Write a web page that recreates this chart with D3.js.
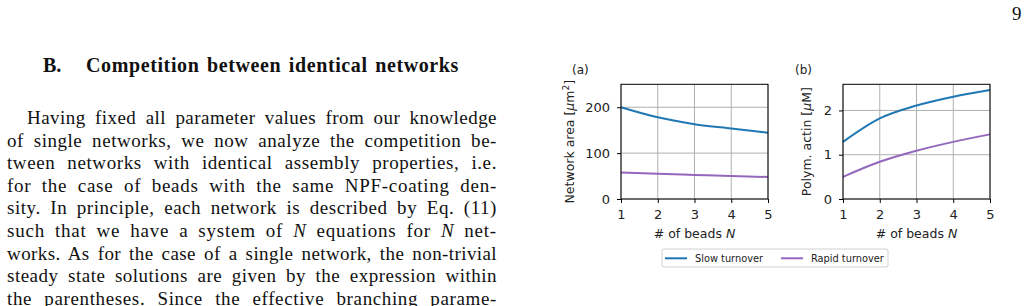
<!DOCTYPE html>
<html>
<head>
<meta charset="utf-8">
<script src="https://cdn.jsdelivr.net/npm/d3@7"></script>
<style>
  body { margin: 0; background: #fff; }
  svg { display: block; }
  .serif { font-family: "Liberation Serif", serif; fill: #111; }
  .plot text { font-family: "DejaVu Sans", sans-serif; fill: #222; }
</style>
</head>
<body>
<svg id="page" width="1029" height="306"></svg>
<script>
// data
var beads = [1, 2, 3, 4, 5];
var areaSlow = [200, 178, 163, 153.5, 144.5];
var areaRapid = [58, 55, 52.5, 50, 48];
var actinSlow = [1.29, 1.82, 2.11, 2.31, 2.46];
var actinRapid = [0.5, 0.84, 1.09, 1.29, 1.46];
var xTicks = [1, 2, 3, 4, 5];
var areaTicks = [0, 100, 200];
var actinTicks = [0, 1, 2];
var seriesNames = ["Slow turnover", "Rapid turnover"];
var colors = ["#1f77b4", "#9467bd"];

var heading = ["B.", "Competition between identical networks"];
var bodyLines = [
  "Having fixed all parameter values from our knowledge",
  "of single networks, we now analyze the competition be-",
  "tween networks with identical assembly properties, i.e.",
  "for the case of beads with the same NPF-coating den-",
  "sity. In principle, each network is described by Eq. (11)",
  "such that we have a system of _N_ equations for _N_ net-",
  "works. As for the case of a single network, the non-trivial",
  "steady state solutions are given by the expression within",
  "the parentheses. Since the effective branching parame-"
];

var svg = d3.select("#page");

// stretch a line to a given width, split between letter gaps and spaces
function justify(t, width, letterShare) {
  var node = t.node();
  var str = node.textContent;
  var extra = width - node.getComputedTextLength();
  if (extra <= 0) return;
  var spaces = (str.match(/ /g) || []).length;
  var ls = extra * letterShare / str.length;
  var ws = spaces ? extra * (1 - letterShare) / spaces : 0;
  t.style("letter-spacing", ls + "px").style("word-spacing", ws + "px");
}

// page number
svg.append("text").attr("class", "serif")
  .attr("x", 1012).attr("y", 20)
  .style("font-size", "19px")
  .text("9");

// heading
var h = svg.append("g").attr("class", "serif")
  .style("font-size", "20px").style("font-weight", "bold");
h.append("text").attr("x", 43).attr("y", 72).text(heading[0]);
var ht = h.append("text").attr("x", 86).attr("y", 72).text(heading[1]);
justify(ht, 373, 0.8);

// body text, justified
bodyLines.forEach(function (line, i) {
  var x0 = i === 0 ? 27 : 7;
  var t = svg.append("text").attr("class", "serif")
    .attr("x", x0).attr("y", 124 + i * 22.6)
    .style("font-size", "19px");
  line.split("_").forEach(function (part, j) {
    t.append("tspan").style("font-style", j % 2 ? "italic" : "normal").text(part);
  });
  justify(t, 497 - x0, 0.45);
});

function panel(opts) {
  var g = svg.append("g").attr("class", "plot");
  var x = d3.scaleLinear().domain([1, 5]).range([opts.left, opts.left + 147]);
  var y = d3.scaleLinear().domain([0, opts.ymax]).range([199, 84.3]);

  // grid
  g.append("g").selectAll("line").data(xTicks).enter().append("line")
    .attr("x1", x).attr("x2", x).attr("y1", y(0)).attr("y2", y(opts.ymax))
    .attr("stroke", "#b0b0b0").attr("stroke-width", 1);
  g.append("g").selectAll("line").data(opts.yTicks).enter().append("line")
    .attr("x1", x(1)).attr("x2", x(5)).attr("y1", y).attr("y2", y)
    .attr("stroke", "#b0b0b0").attr("stroke-width", 1);

  var line = d3.line()
    .x(function (d, i) { return x(beads[i]); })
    .y(function (d) { return y(d); })
    .curve(d3.curveMonotoneX);
  opts.series.forEach(function (s, k) {
    g.append("path").datum(s).attr("d", line)
      .attr("fill", "none").attr("stroke", colors[k]).attr("stroke-width", 2);
  });

  // frame
  g.append("rect").attr("x", x(1)).attr("y", y(opts.ymax))
    .attr("width", x(5) - x(1)).attr("height", y(0) - y(opts.ymax))
    .attr("fill", "none").attr("stroke", "#000").attr("stroke-width", 1);

  var ax = g.append("g").attr("transform", "translate(0,199)")
    .call(d3.axisBottom(x).tickValues(xTicks).tickFormat(d3.format("d")).tickSize(4).tickPadding(7));
  var ay = g.append("g").attr("transform", "translate(" + opts.left + ",0)")
    .call(d3.axisLeft(y).tickValues(opts.yTicks).tickFormat(d3.format("d")).tickSize(4).tickPadding(7));
  [ax, ay].forEach(function (a) {
    a.select(".domain").remove();
    a.attr("font-size", 13).attr("font-family", "DejaVu Sans");
    a.selectAll("text").attr("fill", "#222");
    a.selectAll(".tick line").attr("stroke", "#000");
  });

  var xl = g.append("text").attr("x", x(3)).attr("y", 238)
    .attr("text-anchor", "middle").style("font-size", "12.5px");
  xl.append("tspan").text("# of beads ");
  xl.append("tspan").style("font-style", "italic").text("N");

  var yl = g.append("text")
    .attr("transform", "translate(" + opts.labelX + ",141.7) rotate(-90)")
    .attr("text-anchor", "middle").style("font-size", "12.5px");
  opts.label(yl);

  g.append("text").attr("x", opts.tagX).attr("y", 74)
    .style("font-size", "12px").text(opts.tag);
}

panel({
  left: 621, ymax: 250, yTicks: areaTicks, series: [areaSlow, areaRapid],
  labelX: 574, tagX: 572, tag: "(a)",
  label: function (t) {
    t.append("tspan").text("Network area [");
    t.append("tspan").style("font-style", "italic").text("μ");
    t.append("tspan").text("m");
    t.append("tspan").attr("dy", -5).style("font-size", "9px").text("2");
    t.append("tspan").attr("dy", 5).text("]");
  }
});

panel({
  left: 843, ymax: 2.59, yTicks: actinTicks, series: [actinSlow, actinRapid],
  labelX: 811, tagX: 795, tag: "(b)",
  label: function (t) {
    t.append("tspan").text("Polym. actin [");
    t.append("tspan").style("font-style", "italic").text("μ");
    t.append("tspan").text("M]");
  }
});

// legend
var lg = svg.append("g").attr("class", "plot");
lg.append("rect").attr("x", 662).attr("y", 249).attr("width", 226).attr("height", 18)
  .attr("rx", 2).attr("fill", "#fff").attr("stroke", "#d0d0d0");
var legX = [665, 781];
seriesNames.forEach(function (name, k) {
  lg.append("line").attr("x1", legX[k]).attr("x2", legX[k] + 22)
    .attr("y1", 258.3).attr("y2", 258.3)
    .attr("stroke", colors[k]).attr("stroke-width", 2);
  lg.append("text").attr("x", legX[k] + 30).attr("y", 261.8)
    .style("font-size", "9.8px").text(name);
});
</script>
</body>
</html>
